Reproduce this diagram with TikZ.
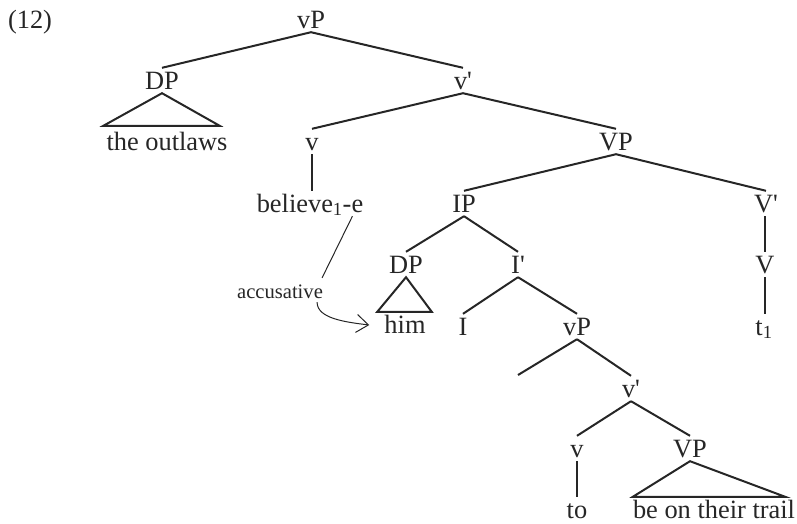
\documentclass[tikz,border=0pt]{standalone}
\usepackage{fontspec}
\setmainfont{Liberation Serif}[Ligatures=TeXOff]
\usetikzlibrary{arrows.meta}
\begin{document}
\begin{tikzpicture}[x=1pt,y=-1pt,
  lab/.style={font=\fontsize{26.4}{30}\selectfont, text=black!85, inner sep=0pt, text height=21pt, text depth=4pt, anchor=base},
  smalllab/.style={font=\fontsize{20.6}{24}\selectfont, text=black!85, inner sep=0pt, text height=20pt, text depth=4pt, anchor=base},
  branch/.style={draw=black!85, line width=2pt},
  thin/.style={draw=black!85, line width=1pt}
]
\useasboundingbox (0,0) rectangle (797,523);

\node[lab] (num) at (30,28) {(12)};
\node[lab] (vP1) at (311,28) {vP};
\node[lab] (DP1) at (162,89) {DP};
\node[lab] (vbar1) at (463,89) {v'};
\node[lab] (outlaws) at (167,150) {the outlaws};
\node[lab] (v1) at (312,150) {v};
\node[lab] (VP1) at (616,150) {VP};
\node[lab] (believe) at (310,212) {believe\textsubscript{1}-e};
\node[lab] (IP) at (464,212) {IP};
\node[lab] (Vbar2) at (766,212) {V'};
\node[lab] (DP2) at (406,273) {DP};
\node[lab] (Ibar) at (518,273) {I'};
\node[lab] (V) at (765,273) {V};
\node[lab] (him) at (405,333) {him};
\node[lab] (I) at (463,335) {I};
\node[lab] (vP2) at (577,335) {vP};
\node[lab] (t1) at (764,335) {t\textsubscript{1}};
\coordinate (spec) at (518,375);
\node[lab] (vbar3) at (631,397) {v'};
\node[lab] (v2) at (577,457) {v};
\node[lab] (VP2) at (690,457) {VP};
\node[lab] (to) at (577,518) {to};
\node[lab] (trail) at (714,518) {be on their trail};
\node[smalllab] (acc) at (280,298) {accusative};

% branches
\draw[branch] (vP1.south) -- (DP1.north);
\draw[branch] (vP1.south) -- (vbar1.north);
\draw[branch] (vbar1.south) -- (v1.north);
\draw[branch] (vbar1.south) -- (VP1.north);
\draw[branch] (v1.south) -- (v1.south |- believe.north);
\draw[branch] (VP1.south) -- (IP.north);
\draw[branch] (VP1.south) -- (Vbar2.north);
\draw[branch] (IP.south) -- (DP2.north);
\draw[branch] (IP.south) -- (Ibar.north);
\draw[branch] (V.north |- Vbar2.south) -- (V.north);
\draw[branch] (V.south) -- (V.south |- t1.north);
\draw[branch] (Ibar.south) -- (I.north);
\draw[branch] (Ibar.south) -- (vP2.north);
\draw[branch] (vP2.south) -- (spec);
\draw[branch] (vP2.south) -- (vbar3.north);
\draw[branch] (vbar3.south) -- (v2.north);
\draw[branch] (vbar3.south) -- (VP2.north);
\draw[branch] (v2.south) -- (v2.south |- to.north);

% triangles
\draw[branch, line join=miter] (DP1.south) -- ([xshift=-3pt,yshift=3pt]outlaws.north west) -- ([xshift=-8pt,yshift=3pt]outlaws.north east) -- cycle;
\draw[branch, line join=miter] (DP2.south) -- ([xshift=-7pt]him.north west) -- ([xshift=6pt]him.north east) -- cycle;
\draw[branch, line join=miter] (VP2.south) -- ([xshift=0pt]trail.north west) -- ([xshift=-10pt]trail.north east) -- cycle;

% accusative
\draw[thin] ([xshift=-11pt]believe.south east) -- ([xshift=-1pt]acc.north east);
\draw[thin, -{Straight Barb[length=12pt,width=18pt]}] ([xshift=-6pt]acc.south east) .. controls +(0pt,-16pt) and +(-25pt,3pt) .. ([shift={(-15pt,8pt)}]him.base west);
\end{tikzpicture}
\end{document}
